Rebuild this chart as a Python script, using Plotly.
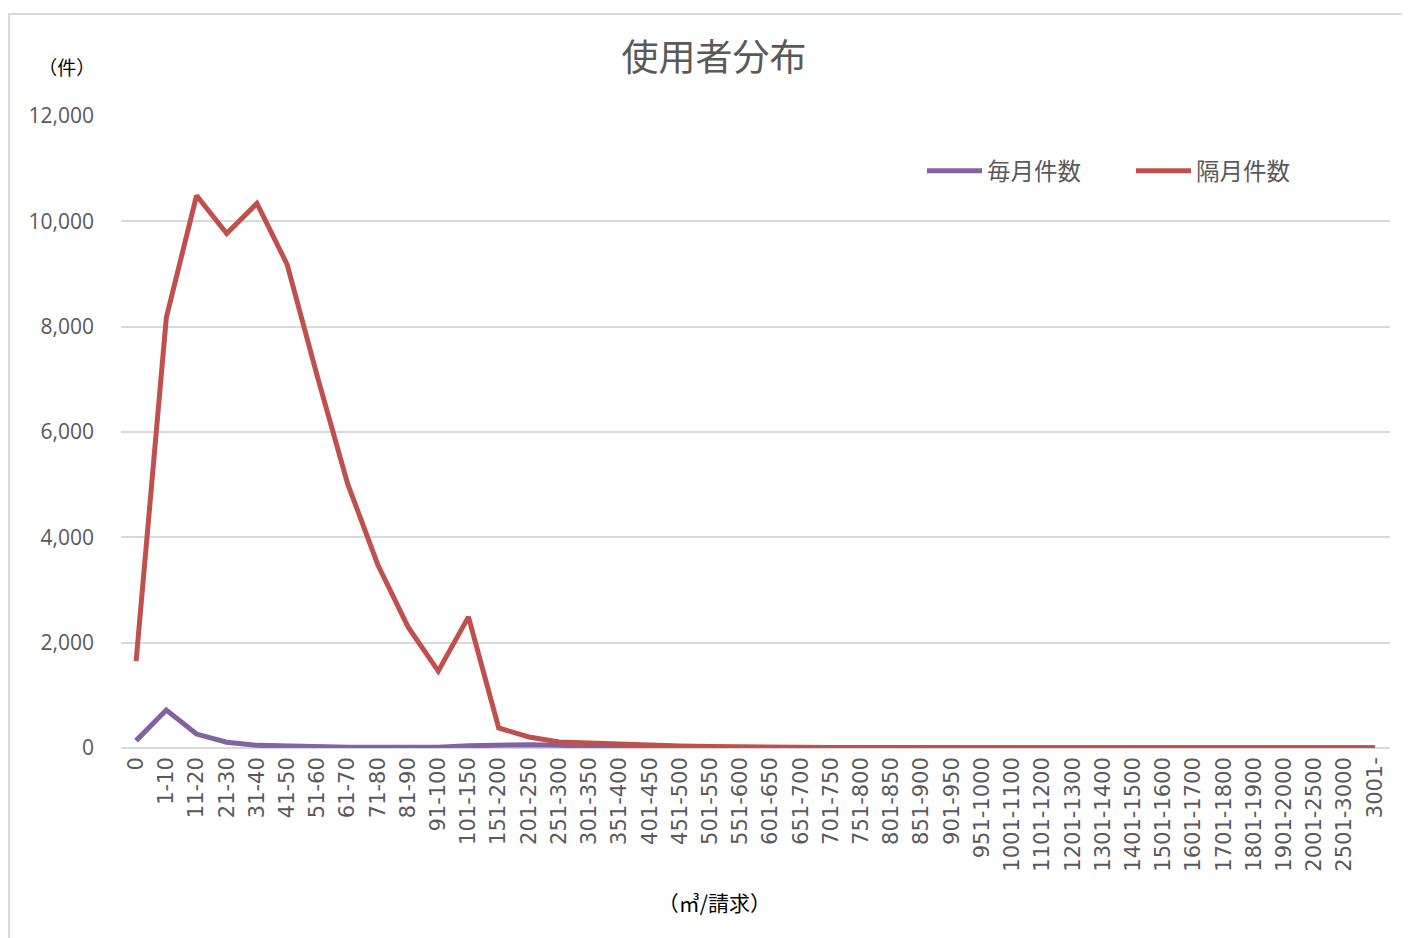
import plotly.graph_objects as go

categories = ["0", "1-10", "11-20", "21-30", "31-40", "41-50", "51-60", "61-70", "71-80", "81-90",
              "91-100", "101-150", "151-200", "201-250", "251-300", "301-350", "351-400", "401-450",
              "451-500", "501-550", "551-600", "601-650", "651-700", "701-750", "751-800", "801-850",
              "851-900", "901-950", "951-1000", "1001-1100", "1101-1200", "1201-1300", "1301-1400",
              "1401-1500", "1501-1600", "1601-1700", "1701-1800", "1801-1900", "1901-2000",
              "2001-2500", "2501-3000", "3001-"]

monthly = [140, 720, 265, 110, 50, 35, 25, 15, 15, 15,
           15, 45, 55, 60, 50, 40, 25, 20, 15, 12,
           10, 8, 5, 5, 5, 5, 5, 8, 5, 8,
           5, 5, 5, 5, 5, 5, 5, 5, 8, 10,
           25, 5]

bimonthly = [1650, 8170, 10490, 9770, 10340, 9180, 7050, 5020, 3480, 2300,
             1460, 2490, 380, 210, 115, 95, 60, 45, 40, 30,
             20, 15, 8, 8, 8, 8, 8, 10, 8, 10,
             8, 8, 8, 8, 8, 8, 8, 8, 8, 8,
             8, 5]

y_ticks = [0, 2000, 4000, 6000, 8000, 10000, 12000]
y_tick_text = ["0", "2,000", "4,000", "6,000", "8,000", "10,000", "12,000"]

cjk = "Noto Sans CJK JP"
gray = "#595959"

# page body has an 8px margin; figure is sized so that it fills the window
W, H = 1402, 930
L, T, PW, PH = 113, 108, 1269, 632

fig = go.Figure()
fig.add_trace(go.Scatter(x=categories, y=monthly, mode="lines", name="毎月件数",
                         line=dict(color="#8064A2", width=5)))
fig.add_trace(go.Scatter(x=categories, y=bimonthly, mode="lines", name="隔月件数",
                         line=dict(color="#C0504D", width=5)))

fig.update_layout(
    width=W, height=H,
    margin=dict(l=L, r=W - L - PW, t=T, b=H - T - PH),
    paper_bgcolor="white", plot_bgcolor="white",
    font=dict(family=cjk, color=gray),
    title=dict(text="使用者分布", x=(714 - 8) / W, xref="container", xanchor="center",
               y=1 - 50 / H, yanchor="middle", yref="container",
               font=dict(size=37, color=gray, family=cjk)),
    legend=dict(orientation="h", x=(922 - 121) / PW, y=(748 - 171) / PH,
                xanchor="left", yanchor="middle",
                font=dict(size=23.5, color=gray, family=cjk), bgcolor="rgba(0,0,0,0)",
                itemwidth=55, entrywidth=139, entrywidthmode="pixels"),
    showlegend=True,
    xaxis=dict(type="category", range=[-0.5, 41.5], tickangle=-90,
               tickfont=dict(size=21, color=gray, family="DejaVu Sans"), showgrid=False,
               showline=False, ticks="", zeroline=False, ticklabelstandoff=4),
    yaxis=dict(range=[0, 12000], tickvals=y_ticks, ticktext=y_tick_text,
               tickfont=dict(size=21, color=gray, family="Open Sans"),
               gridcolor="#d9d9d9", gridwidth=2,
               showline=False, zeroline=True, zerolinecolor="#d9d9d9", zerolinewidth=2,
               ticks="", ticklabelstandoff=26),
)

# outer chart border
fig.add_shape(type="rect", xref="paper", yref="paper",
              x0=(9 - 121) / PW, x1=(1420 - 121) / PW,
              y0=(748 - 945) / PH, y1=(748 - 14) / PH,
              line=dict(color="#d9d9d9", width=2), fillcolor="rgba(0,0,0,0)", layer="below")

fig.add_annotation(text="\u00a0（件）", xref="paper", yref="paper",
                   x=(64 - 121) / PW, y=(748 - 66) / PH, showarrow=False,
                   xanchor="center", yanchor="middle",
                   font=dict(size=19, color="#000000", family=cjk))
fig.add_annotation(text="\u00a0（㎥/請求）", xref="paper", yref="paper",
                   x=(712 - 121) / PW, y=(748 - 902) / PH, showarrow=False,
                   xanchor="center", yanchor="middle",
                   font=dict(size=21, color="#000000", family=cjk))

fig.write_html("out.html")
